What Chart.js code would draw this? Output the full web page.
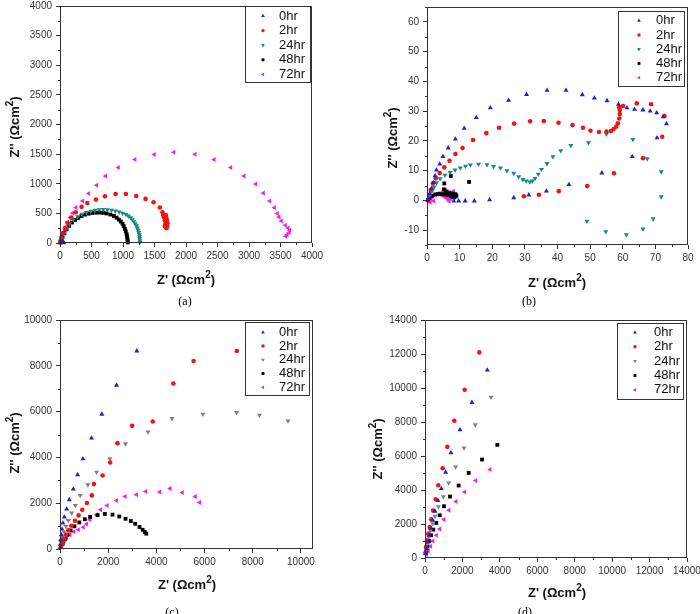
<!DOCTYPE html>
<html>
<head>
<meta charset="utf-8">
<script src="https://cdn.jsdelivr.net/npm/chart.js@4.4.1/dist/chart.umd.min.js"></script>
<style>
  html, body { margin: 0; padding: 0; background: #fff; }
  #wrap { position: relative; width: 700px; height: 614px; overflow: hidden; }
  canvas { position: absolute; }
</style>
</head>
<body>
<div id="wrap">
  <canvas id="pa" width="350" height="307" style="left:0;top:0"></canvas>
  <canvas id="pb" width="350" height="307" style="left:350px;top:0"></canvas>
  <canvas id="pc" width="350" height="307" style="left:0;top:307px"></canvas>
  <canvas id="pd" width="350" height="307" style="left:350px;top:307px"></canvas>
</div>
<script>
// series names shared by all four panels
const seriesLabels = ['0hr', '2hr', '24hr', '48hr', '72hr'];

// ---- panel (a) : [Z', Z''] pairs ----
const a0hr = [[8, 5], [18, 12], [30, 20], [42, 30], [50, 22], [55, 12], [58, 5]];
const a2hr = [[8, 30], [20, 80], [45, 160], [80, 250], [120, 340], [180, 430], [250, 520], [343, 610], [433, 676], [571, 733], [713, 789], [882, 828], [1046, 828], [1210, 794], [1358, 744], [1485, 688], [1585, 600], [1627, 520], [1638, 470], [1649, 440], [1664, 383], [1675, 327], [1664, 282], [1690, 250], [1700, 290], [1705, 335], [1698, 380], [1690, 420], [1680, 470]];
const a24hr = [[1268, 10], [1268, 40], [1265, 75], [1262, 110], [1257, 145], [1250, 180], [1240, 215], [1228, 255], [1215, 290], [1195, 325], [1173, 360], [1148, 395], [1120, 428], [1085, 458], [1046, 482], [995, 505], [940, 525], [880, 542], [819, 555], [752, 563], [686, 566], [620, 562], [555, 553], [490, 538], [420, 515], [350, 485], [280, 445], [210, 390], [150, 320], [100, 240], [60, 160], [30, 80], [10, 25]];
const a48hr = [[1075, 10], [1073, 40], [1070, 75], [1065, 110], [1057, 150], [1045, 195], [1030, 240], [1012, 285], [993, 325], [965, 362], [935, 395], [898, 428], [856, 456], [800, 480], [740, 498], [690, 508], [634, 513], [575, 512], [512, 506], [455, 495], [396, 480], [340, 455], [290, 425], [240, 390], [190, 345], [145, 290], [105, 230], [70, 165], [40, 100], [18, 45], [5, 10]];
const a72hr = [[3583, 113], [3604, 141], [3635, 175], [3646, 214], [3620, 254], [3577, 299], [3514, 372], [3477, 439], [3450, 496], [3403, 597], [3329, 710], [3229, 845], [3107, 997], [2922, 1132], [2710, 1274], [2446, 1409], [2145, 1499], [1807, 1533], [1495, 1494], [1189, 1409], [925, 1274], [724, 1132], [581, 975], [455, 835], [359, 710], [254, 598], [201, 507], [160, 430], [120, 350], [85, 270], [55, 190], [30, 110], [15, 50], [5, 15]];

// ---- panel (b) ----
const b0hr = [[0.4, 0.6], [0.8, 2.3], [1.4, 4.0], [2.0, 6.0], [2.5, 8.3], [2.9, 10.2], [3.9, 12.2], [4.9, 14.7], [6.5, 17.6], [8.7, 20.6], [11.4, 24.2], [15.1, 27.8], [19.4, 31.1], [25.0, 33.6], [30.5, 35.6], [36.8, 37.0], [42.6, 37.0], [47.6, 35.5], [51.3, 34.4], [55.2, 33.5], [58.7, 32.3], [61.3, 31.1], [63.6, 30.6], [66.2, 30.4], [68.4, 30.0], [70.4, 29.4], [72.4, 28.1], [73.4, 25.7], [70.5, 21.0], [62.9, 14.7], [53.6, 9.2], [43.5, 5.3], [36.6, 3.1], [31.2, 1.8], [26.6, 0.9], [19.2, 0.2], [14.5, -0.2], [11.7, -0.2], [9.7, -0.2], [8.2, -0.2]];
const b2hr = [[0.6, 1.8], [1.1, 3.5], [1.8, 5.7], [2.7, 7.4], [3.9, 9.2], [5.3, 11.1], [6.9, 13.3], [8.7, 15.6], [10.9, 17.6], [14.1, 20.3], [18.2, 22.6], [22.1, 24.4], [26.7, 25.8], [31.6, 26.6], [35.8, 26.7], [40.3, 26.1], [44.6, 25.3], [47.8, 24.4], [50.1, 23.4], [52.7, 23.0], [55.0, 23.1], [56.4, 23.3], [57.2, 24.0], [58.0, 24.8], [58.5, 25.9], [58.9, 27.5], [59.1, 29.0], [59.1, 30.4], [58.9, 31.3], [60.1, 31.7], [64.3, 32.6], [68.7, 32.3], [72.8, 28.4], [72.1, 21.4], [66.2, 14.2], [57.3, 9.1], [49.1, 4.8], [40.4, 3.1], [34.3, 1.9], [29.7, 1.4]];
const b24hr = [[0.8, 1.5], [1.5, 3.0], [2.2, 4.5], [2.9, 5.9], [4.0, 7.3], [5.5, 8.5], [7.1, 9.4], [8.6, 10.2], [10.2, 10.9], [11.8, 11.5], [13.3, 11.9], [15.8, 12.2], [18.4, 12.0], [20.4, 11.4], [22.5, 10.9], [24.5, 10.0], [26.6, 9.1], [28.1, 8.0], [29.4, 7.0], [30.4, 6.5], [31.5, 6.2], [32.3, 6.5], [33.1, 7.4], [34.1, 8.8], [35.1, 10.4], [36.8, 12.4], [38.6, 14.7], [41.0, 16.7], [44.1, 18.5], [49.5, 19.4], [55.0, 22.3], [63.1, 20.5], [67.5, 14.0], [71.8, 9.6], [71.8, 1.2], [69.3, -6.2], [66.2, -9.6], [61.1, -11.5], [54.8, -10.5], [49.0, -7.0]];
const b48hr = [[0.3, 0.2], [0.8, 0.8], [1.5, 1.5], [2.5, 2.0], [3.5, 2.2], [4.5, 2.1], [5.5, 2.0], [6.5, 1.8], [7.2, 1.5], [7.8, 1.2], [8.3, 1.0], [8.8, 1.3], [9.0, 1.7], [8.6, 2.1], [7.8, 2.3], [6.8, 2.6], [5.8, 3.0], [5.2, 3.7], [5.3, 5.7], [7.3, 8.2], [12.9, 6.2]];
const b72hr = [[0.2, -0.3], [0.5, 0.2], [0.9, 0.6], [1.3, 1.0], [1.7, 1.4], [2.1, 1.7], [2.6, 1.9], [3.1, 2.1], [3.6, 2.2], [4.1, 2.0], [4.6, 1.7], [5.1, 1.4], [5.6, 1.1], [6.1, 0.7], [6.5, 0.2], [6.8, -0.3], [7.2, 0.6], [7.6, 1.3], [8.0, 2.2], [8.1, 3.1], [6.3, 2.8], [5.6, 3.4], [4.8, 2.8], [1.0, -0.6], [2.0, -0.2]];

// ---- panel (c) ----
const c0hr = [[5, 60], [14, 189], [28, 407], [55, 625], [83, 872], [124, 1134], [179, 1395], [276, 1744], [386, 2151], [552, 2616], [731, 3241], [952, 3939], [1310, 4840], [1738, 5887], [2345, 7151], [3186, 8648]];
const c2hr = [[41, 116], [97, 262], [166, 436], [248, 625], [345, 814], [469, 1017], [621, 1235], [772, 1468], [924, 1715], [1117, 2006], [1324, 2340], [1407, 2834], [1766, 3212], [2083, 3779], [2386, 4622], [2993, 5378], [3848, 5567], [4703, 7224], [5545, 8212], [7338, 8648]];
const c24hr = [[41, 305], [97, 523], [166, 741], [248, 988], [345, 1250], [483, 1570], [634, 1904], [841, 2340], [1159, 2805], [1517, 3358], [2069, 3939], [2717, 4593], [3655, 5116], [4648, 5698], [5931, 5887], [7324, 5959], [8276, 5843], [9462, 5596]];
const c48hr = [[40, 80], [110, 230], [200, 420], [310, 620], [440, 810], [600, 990], [800, 1160], [1030, 1300], [1250, 1400], [1560, 1480], [1860, 1530], [2180, 1500], [2460, 1420], [2720, 1320], [2940, 1220], [3120, 1100], [3300, 960], [3430, 840], [3520, 740], [3580, 670]];
const c72hr = [[69, 160], [166, 334], [276, 480], [414, 625], [579, 756], [759, 843], [966, 945], [1103, 1090], [1241, 1279], [1517, 1497], [1683, 1715], [1959, 1904], [2345, 2122], [2703, 2297], [3172, 2369], [3559, 2515], [4138, 2486], [4566, 2645], [5076, 2471], [5614, 2297], [5793, 2035]];

// ---- panel (d) ----
const d0hr = [[36, 255], [89, 550], [160, 943], [231, 1335], [321, 1747], [410, 2219], [534, 2749], [695, 3377], [873, 4084], [1104, 5046], [1389, 6185], [1870, 7540], [2511, 9150], [3330, 11055]];
const d2hr = [[18, 295], [53, 648], [107, 1041], [178, 1433], [249, 1826], [338, 2278], [427, 2788], [570, 3456], [712, 4280], [944, 5282], [1193, 6538], [1567, 8070], [2119, 9896], [2903, 12095]];
const d24hr = [[53, 452], [125, 844], [196, 1237], [285, 1630], [410, 2022], [534, 2454], [712, 3024], [980, 3613], [1265, 4418], [1639, 5360], [2084, 6480], [2689, 7834], [3526, 9464]];
const d48hr = [[53, 353], [125, 687], [214, 1001], [321, 1335], [445, 1669], [606, 2062], [784, 2513], [1015, 3043], [1336, 3613], [1799, 4261], [2333, 5007], [3046, 5792], [3865, 6656]];
const d72hr = [[71, 196], [178, 412], [303, 687], [427, 1001], [606, 1335], [784, 1708], [1015, 2258], [1282, 2808], [1656, 3318], [2119, 3888], [2707, 4555], [3473, 5203]];

// tick values
const ticksA = [0, 500, 1000, 1500, 2000, 2500, 3000, 3500, 4000];
const ticksBx = [0, 10, 20, 30, 40, 50, 60, 70, 80];
const ticksBy = [-10, 0, 10, 20, 30, 40, 50, 60];
const ticksC = [0, 2000, 4000, 6000, 8000, 10000];
const ticksD = [0, 2000, 4000, 6000, 8000, 10000, 12000, 14000];

const SANS = '"Liberation Sans", Arial, sans-serif';
const INK = '#333';
const markerStyles = ['triangle', 'circle', 'triangle', 'rect', 'triangle'];
const markerRot = [0, 0, 180, 0, -90];
const markerSize = [2.9, 2.3, 2.9, 2.7, 2.9];
const colorsTeal = ['#1f1fdd', '#ee1515', '#168a80', '#000000', '#ee22ee'];
const colorsGray = ['#1f1fdd', '#ee1515', '#808080', '#000000', '#ee22ee'];

function drawUnitTitle(ctx, prefix, x, y, rotate) {
  const big = 'bold 13px ' + SANS;
  const small = 'bold 10px ' + SANS;
  ctx.save();
  ctx.translate(x, y);
  if (rotate) ctx.rotate(-Math.PI / 2);
  ctx.fillStyle = '#111';
  ctx.textBaseline = 'middle';
  ctx.textAlign = 'left';
  ctx.font = big;
  const w1 = ctx.measureText(prefix).width;
  const w3 = ctx.measureText(')').width;
  ctx.font = small;
  const w2 = ctx.measureText('2').width;
  let cx = -(w1 + w2 + w3) / 2;
  ctx.font = big;
  ctx.fillText(prefix, cx, 0);
  cx += w1;
  ctx.font = small;
  ctx.fillText('2', cx, -5);
  cx += w2;
  ctx.font = big;
  ctx.fillText(')', cx, 0);
  ctx.restore();
}

function minorTicks(ctx, scale, ticks, horizontal, a) {
  const step = ticks[1] - ticks[0];
  for (let v = ticks[0] - step / 2; v <= scale.max + 1e-9; v += step) {
    if (v < scale.min - 1e-9) continue;
    const p = Math.round(scale.getPixelForValue(v)) + 0.5;
    ctx.beginPath();
    if (horizontal) { ctx.moveTo(p, a.bottom); ctx.lineTo(p, a.bottom + 2); }
    else { ctx.moveTo(a.left, p); ctx.lineTo(a.left - 2, p); }
    ctx.stroke();
  }
}

function buildPanel(id, p) {
  const W = 350, H = 307;
  const datasets = seriesLabels.map((label, i) => ({
    label,
    data: p.series[i].map(([x, y]) => ({ x, y })),
    pointStyle: markerStyles[i],
    rotation: markerRot[i],
    pointRadius: markerSize[i],
    pointHoverRadius: markerSize[i],
    backgroundColor: p.colors[i],
    borderColor: p.colors[i],
    borderWidth: 0,
    showLine: false,
    clip: false
  }));

  const decor = {
    id: 'decor' + id,
    afterDraw(chart) {
      const { ctx, chartArea: a, scales: { x, y } } = chart;
      ctx.save();
      ctx.strokeStyle = INK;
      ctx.lineWidth = 1;
      ctx.strokeRect(a.left + 0.5, a.top + 0.5, a.right - a.left - 1, a.bottom - a.top - 1);
      minorTicks(ctx, x, p.xTicks, true, a);
      minorTicks(ctx, y, p.yTicks, false, a);

      // legend box
      const L = p.legend;
      ctx.fillStyle = '#fff';
      ctx.fillRect(L.x, L.y, L.w, L.h);
      ctx.strokeRect(L.x + 0.5, L.y + 0.5, L.w, L.h);
      ctx.font = '13px ' + SANS;
      ctx.textBaseline = 'middle';
      ctx.textAlign = 'left';
      seriesLabels.forEach((label, i) => {
        const ry = L.row0 + i * L.step;
        ctx.fillStyle = p.colors[i];
        ctx.strokeStyle = p.colors[i];
        Chart.helpers.drawPoint(ctx, { pointStyle: markerStyles[i], rotation: markerRot[i], radius: markerSize[i] * 0.75, borderWidth: 0 }, L.x + L.mx, ry);
        ctx.fillStyle = '#111';
        ctx.fillText(label, L.x + L.tx, ry);
      });
      ctx.strokeStyle = INK;

      // axis titles and caption
      drawUnitTitle(ctx, "Z' (\u03A9cm", p.xTitle[0], p.xTitle[1], false);
      drawUnitTitle(ctx, "Z'' (\u03A9cm", p.yTitle[0], p.yTitle[1], true);
      ctx.fillStyle = '#000';
      ctx.font = '12px "Liberation Serif", "Times New Roman", serif';
      ctx.textAlign = 'center';
      ctx.fillText(p.caption, p.capPos[0], p.capPos[1]);
      ctx.restore();
    }
  };

  const tickFont = { family: SANS, size: 10 };
  const scale = (min, max, ticks, isX) => ({
    type: 'linear',
    min,
    max,
    afterBuildTicks: (s) => { s.ticks = ticks.map((v) => ({ value: v })); },
    afterFit: (s) => {
      if (isX) { s.height = 20; s.paddingLeft = 0; s.paddingRight = 0; }
      else { s.width = p.box.left; s.paddingTop = 0; s.paddingBottom = 0; }
    },
    grid: { drawOnChartArea: false, drawTicks: true, tickLength: 4, color: INK, lineWidth: 1 },
    border: { display: false },
    ticks: { autoSkip: false, maxRotation: 0, padding: isX ? 3 : 4, color: INK, font: tickFont, callback: (v) => String(v) }
  });

  new Chart(document.getElementById(id), {
    type: 'scatter',
    data: { datasets },
    options: {
      responsive: false,
      animation: false,
      devicePixelRatio: 1,
      layout: { padding: { left: 0, top: p.box.top, right: W - p.box.right, bottom: H - p.box.bottom - 20 } },
      plugins: { legend: { display: false }, tooltip: { enabled: false } },
      scales: {
        x: scale(p.xMin, p.xMax, p.xTicks, true),
        y: scale(p.yMin, p.yMax, p.yTicks, false)
      }
    },
    plugins: [decor]
  });
}

buildPanel('pa', {
  series: [a0hr, a2hr, a24hr, a48hr, a72hr], colors: colorsTeal,
  xMin: 0, xMax: 4000, xTicks: ticksA, yMin: 0, yMax: 4000, yTicks: ticksA,
  box: { left: 60, right: 312, top: 6, bottom: 243 },
  legend: { x: 245, y: 6, w: 65, h: 76, row0: 16, step: 14.6, mx: 18, tx: 34 },
  xTitle: [186, 280], yTitle: [15, 127], caption: '(a)', capPos: [185, 302]
});
buildPanel('pb', {
  series: [b0hr, b2hr, b24hr, b48hr, b72hr], colors: colorsTeal,
  xMin: 0, xMax: 80, xTicks: ticksBx, yMin: -15, yMax: 65, yTicks: ticksBy,
  box: { left: 77, right: 338, top: 7, bottom: 245 },
  legend: { x: 268, y: 11, w: 66, h: 75, row0: 20.7, step: 14.25, mx: 21, tx: 38 },
  xTitle: [207, 283], yTitle: [43, 138], caption: '(b)', capPos: [179, 302]
});
buildPanel('pc', {
  series: [c0hr, c2hr, c24hr, c48hr, c72hr], colors: colorsGray,
  xMin: 0, xMax: 10500, xTicks: ticksC, yMin: 0, yMax: 10000, yTicks: ticksC,
  box: { left: 60, right: 313, top: 13, bottom: 242 },
  legend: { x: 245, y: 15, w: 64, h: 73, row0: 25.3, step: 13.75, mx: 18, tx: 34 },
  xTitle: [187, 278], yTitle: [15, 136], caption: '(c)', capPos: [172, 306]
});
buildPanel('pd', {
  series: [d0hr, d2hr, d24hr, d48hr, d72hr], colors: colorsGray,
  xMin: 0, xMax: 14000, xTicks: ticksD, yMin: 0, yMax: 14000, yTicks: ticksD,
  box: { left: 75, right: 337, top: 13, bottom: 251 },
  legend: { x: 267, y: 16, w: 66, h: 76, row0: 25.3, step: 14.4, mx: 18, tx: 37 },
  xTitle: [207, 286], yTitle: [28, 142], caption: '(d)', capPos: [175, 306]
});
</script>
</body>
</html>
